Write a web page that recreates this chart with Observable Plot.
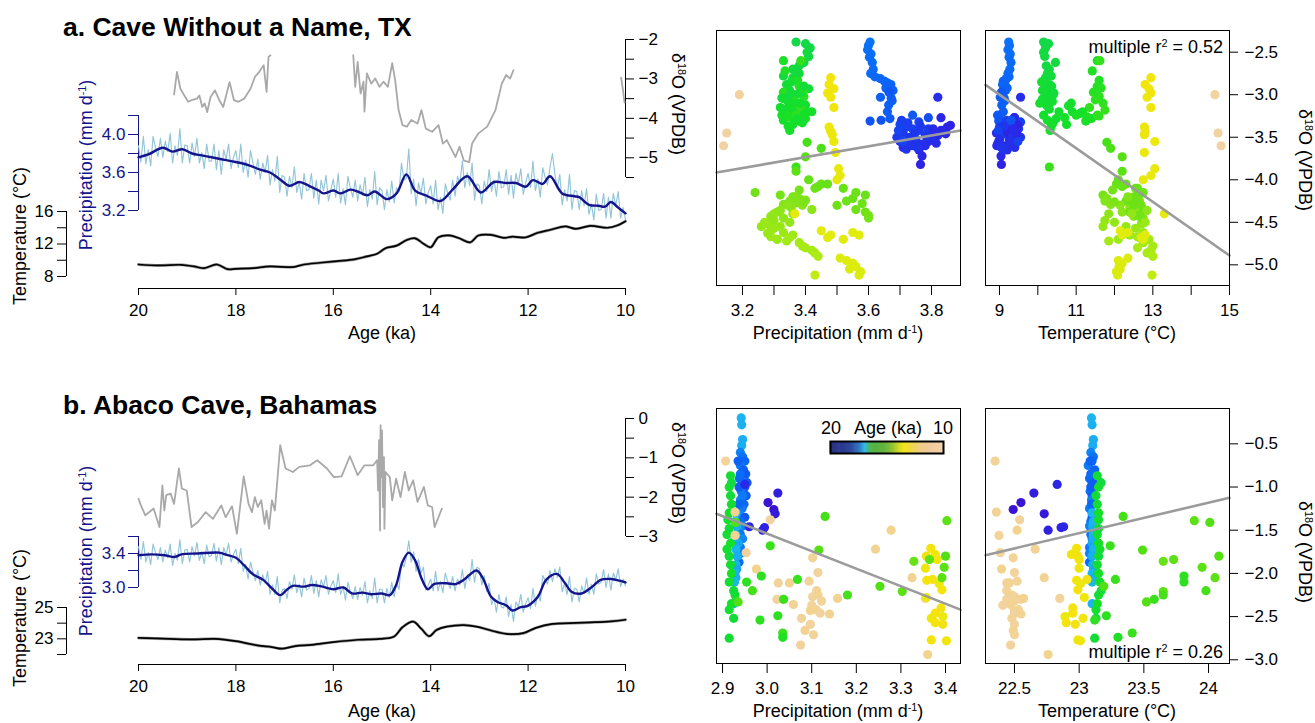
<!DOCTYPE html>
<html>
<head>
<meta charset="utf-8">
<script src="https://cdn.jsdelivr.net/npm/d3@7"></script>
<script src="https://cdn.jsdelivr.net/npm/@observablehq/plot@0.6"></script>
<style>
  body { margin: 0; background: #fff; }
  #fig { position: relative; width: 1315px; height: 723px; overflow: hidden; background: #fff;
         font-family: "Liberation Sans", Arial, Helvetica, sans-serif; color: #000; }
  #fig > svg { position: absolute; left: 0; top: 0; }
  .t { position: absolute; white-space: nowrap; line-height: 1; }
  .t sup { font-size: 0.6em; vertical-align: 0.6em; line-height: 0; }
</style>
</head>
<body>
<div id="fig"></div>
<script>
// ---------------------------------------------------------------------------
// Axis ticks
// ---------------------------------------------------------------------------
const ageTicks = [20, 18, 16, 14, 12, 10];

const cwnD18OTicks = [-5.5, -5, -4.5, -4, -3.5, -3, -2.5, -2];
const cwnD18OLabels = [-5, -4, -3, -2];
const cwnPrecipTicks = [3.2, 3.4, 3.6, 3.8, 4.0, 4.2];
const cwnPrecipLabels = [3.2, 3.6, 4.0];
const cwnTempTicks = [8, 10, 12, 14, 16];
const cwnTempLabels = [8, 12, 16];

const abacoD18OTicks = [-3, -2.5, -2, -1.5, -1, -0.5, 0];
const abacoD18OLabels = [-3, -2, -1, 0];
const abacoPrecipTicks = [3.0, 3.2, 3.4, 3.6];
const abacoPrecipLabels = [3.0, 3.4];
const abacoTempTicks = [22, 23, 24, 25];
const abacoTempLabels = [23, 25];

const cwnScatterPrecipTicks = [3.2, 3.3, 3.4, 3.5, 3.6, 3.7, 3.8];
const cwnScatterPrecipLabels = [3.2, 3.4, 3.6, 3.8];
const cwnScatterTempTicks = [9, 10, 11, 12, 13, 14, 15];
const cwnScatterTempLabels = [9, 11, 13, 15];
const cwnScatterD18OTicks = [-5, -4.5, -4, -3.5, -3, -2.5];
const abacoScatterPrecipTicks = [2.9, 3.0, 3.1, 3.2, 3.3, 3.4];
const abacoScatterTempTicks = [22.5, 23, 23.5, 24];
const abacoScatterD18OTicks = [-3, -2.5, -2, -1.5, -1, -0.5];

// Scatter axis extents
const cwnScatterPrecipDomain = [3.1175, 3.892];
const cwnScatterTempDomain = [8.635, 15];
const cwnScatterD18ODomain = [-5.243, -2.245];
const abacoScatterPrecipDomain = [2.8865, 3.4336];
const abacoScatterTempDomain = [22.276, 24.162];
const abacoScatterD18ODomain = [-3.043, -0.091];

// Multiple-regression partial fits: [intercept, slope]
const cwnFitPrecip = [-5.907, 0.639];
const cwnFitTemp = [-0.1623, -0.3152];
const abacoFitPrecip = [4.547, -2.029];
const abacoFitTemp = [-9.644, 0.3526];
const cwnR2 = "0.52";
const abacoR2 = "0.26";

// Age colour ramp for the scatter dots
const dotAgeStops = [10, 11, 12.3, 12.7, 13.4, 14.0, 14.5, 15.0, 15.6, 16.4, 17.4, 18.2, 19, 20];
const dotAgeColors = ["#f2d2a2", "#f2d670", "#f4e40c", "#e0ec0c", "#b4ec14", "#86e41a", "#52e014",
                      "#14e028", "#12d84a", "#1cb4f0", "#0a6cf6", "#1446f2", "#2a28e6", "#3c10d0"];
// Colour bar ramp (ages 10 -> 20 in 0.5 ka steps)
const legendAgeStops = [10, 10.5, 11, 11.5, 12, 12.5, 13, 13.5, 14, 14.5, 15, 15.5, 16, 16.5, 17, 17.5, 18, 18.5, 19, 19.5, 20];
const legendColors = ["#f3d2aa", "#f2cea4", "#f1cc9c", "#f0ca94", "#efcc84", "#efd268", "#f0dc40", "#f2e41a",
                      "#d0da24", "#9cc630", "#70b63a", "#5fb33e", "#56b243", "#4cb448", "#34bce6", "#2f78c4",
                      "#2d52a6", "#2c4398", "#2b3a8e", "#2a3688", "#283383"];

// ---------------------------------------------------------------------------
// a. Cave Without a Name, TX
// ---------------------------------------------------------------------------
// Precipitation raw series, 20 ka -> 10 ka every 0.05 ka
const cwnPrecipRaw = [
  3.88, 3.71, 3.98, 3.69, 3.84, 3.67, 3.98, 3.86, 3.77, 3.96,
  3.76, 3.93, 3.82, 4.01, 3.70, 3.88, 3.78, 4.06, 3.70, 3.89,
  3.88, 3.70, 3.91, 3.77, 3.96, 3.70, 3.81, 3.64, 3.90, 3.72,
  3.72, 3.90, 3.63, 3.83, 3.58, 3.84, 3.74, 3.90, 3.64, 3.76,
  3.83, 3.65, 3.90, 3.60, 3.73, 3.55, 3.83, 3.70, 3.58, 3.74,
  3.53, 3.70, 3.60, 3.78, 3.47, 3.63, 3.51, 3.77, 3.39, 3.57,
  3.55, 3.35, 3.56, 3.44, 3.66, 3.39, 3.50, 3.32, 3.59, 3.41,
  3.42, 3.59, 3.33, 3.52, 3.27, 3.52, 3.41, 3.57, 3.30, 3.42,
  3.53, 3.34, 3.59, 3.28, 3.43, 3.26, 3.56, 3.44, 3.34, 3.52,
  3.30, 3.47, 3.36, 3.55, 3.24, 3.42, 3.32, 3.61, 3.26, 3.44,
  3.41, 3.21, 3.42, 3.29, 3.51, 3.28, 3.44, 3.40, 3.70, 3.52,
  3.54, 3.85, 3.38, 3.53, 3.25, 3.49, 3.38, 3.54, 3.27, 3.39,
  3.46, 3.27, 3.52, 3.21, 3.34, 3.17, 3.48, 3.38, 3.31, 3.52,
  3.35, 3.56, 3.49, 3.72, 3.44, 3.60, 3.46, 3.70, 3.31, 3.48,
  3.46, 3.27, 3.51, 3.40, 3.63, 3.40, 3.52, 3.35, 3.61, 3.44,
  3.45, 3.63, 3.37, 3.57, 3.33, 3.59, 3.48, 3.64, 3.37, 3.49,
  3.59, 3.44, 3.72, 3.41, 3.53, 3.34, 3.65, 3.55, 3.47, 3.66,
  3.80, 3.58, 3.43, 3.58, 3.26, 3.42, 3.30, 3.58, 3.21, 3.41,
  3.40, 3.21, 3.41, 3.25, 3.43, 3.16, 3.27, 3.10, 3.37, 3.20,
  3.21, 3.38, 3.12, 3.34, 3.12, 3.38, 3.25, 3.40, 3.12, 3.23,
  3.10
];
const cwnPrecipSmooth = [
  [20.0, 3.76], [19.8, 3.79], [19.5, 3.86], [19.3, 3.82], [19.1, 3.845], [18.9, 3.80], [18.7, 3.78],
  [18.5, 3.76], [18.3, 3.74], [18.1, 3.72], [17.9, 3.70], [17.7, 3.67], [17.5, 3.63], [17.3, 3.60],
  [17.1, 3.53], [16.9, 3.46], [16.7, 3.50], [16.5, 3.46], [16.3, 3.41], [16.2, 3.38], [16.0, 3.41],
  [15.85, 3.38], [15.65, 3.42], [15.5, 3.40], [15.3, 3.36], [15.15, 3.40], [14.9, 3.32], [14.7, 3.38],
  [14.5, 3.58], [14.32, 3.41], [14.1, 3.36], [13.8, 3.30], [13.55, 3.42], [13.25, 3.56], [12.97, 3.39],
  [12.7, 3.50], [12.45, 3.49], [12.25, 3.49], [12.05, 3.45], [11.9, 3.52], [11.7, 3.48], [11.55, 3.56],
  [11.3, 3.38], [11.05, 3.35], [10.95, 3.34], [10.75, 3.26], [10.55, 3.25], [10.42, 3.24], [10.3, 3.29],
  [10.15, 3.23], [10.0, 3.17]
];
const cwnTemp = [
  [20.0, 9.48], [19.56, 9.36], [19.12, 9.44], [18.86, 9.24], [18.65, 9.03], [18.39, 9.48], [18.17, 8.90],
  [18.0, 8.95], [17.65, 9.03], [17.3, 9.24], [16.83, 9.16], [16.6, 9.48], [16.27, 9.69], [15.92, 9.89],
  [15.57, 10.10], [15.31, 10.47], [15.1, 10.80], [14.92, 11.50], [14.7, 11.80], [14.49, 12.50],
  [14.32, 12.70], [14.14, 12.00], [14.0, 11.60], [13.84, 12.84], [13.62, 13.05], [13.41, 12.70],
  [13.19, 12.20], [13.02, 13.05], [12.76, 13.13], [12.5, 12.76], [12.32, 12.90], [12.06, 12.80],
  [11.8, 13.38], [11.54, 13.75], [11.24, 14.16], [11.02, 13.87], [10.72, 14.24], [10.37, 14.00],
  [10.16, 14.30], [10.0, 14.80]
];
const cwnD18OSeg1 = [
  [19.27, -3.40], [19.21, -2.82], [19.14, -3.25], [19.04, -3.46], [18.98, -3.58], [18.91, -3.54],
  [18.80, -3.50], [18.75, -3.42], [18.69, -3.71], [18.64, -3.62], [18.59, -3.84], [18.52, -3.46],
  [18.43, -3.29], [18.34, -3.54], [18.26, -3.71], [18.13, -3.08], [18.04, -3.54], [17.95, -3.58],
  [17.83, -3.50], [17.70, -3.25], [17.61, -2.95], [17.52, -2.82], [17.43, -2.65], [17.37, -3.33],
  [17.33, -2.44], [17.29, -2.40]
];
const cwnD18OSeg2 = [
  [15.59, -2.40], [15.55, -3.20], [15.50, -2.57], [15.44, -3.37], [15.38, -3.07], [15.36, -3.83],
  [15.31, -2.86], [15.22, -3.12], [15.14, -2.99], [15.05, -3.20], [14.97, -3.07], [14.88, -3.20],
  [14.79, -2.60], [14.73, -3.03], [14.66, -3.79], [14.58, -4.17], [14.49, -4.21], [14.40, -4.04],
  [14.27, -4.13], [14.19, -3.79], [14.10, -4.26], [13.97, -4.34], [13.84, -4.17], [13.75, -4.64],
  [13.67, -4.55], [13.58, -4.77], [13.49, -4.98], [13.41, -4.72], [13.32, -5.07], [13.21, -5.11],
  [13.15, -4.64], [13.02, -4.38], [12.84, -4.21], [12.67, -3.79], [12.54, -3.12], [12.45, -2.90],
  [12.37, -2.99], [12.30, -2.78]
];
const cwnD18OSeg3 = [[10.09, -2.97], [10.05, -3.30], [10.02, -3.60]];

// Scatter samples: [age (ka), precipitation, temperature, d18O]
const cwnSamples = [
  [17.30, 3.605, 9.24, -2.38], [17.32, 3.600, 9.26, -2.42], [17.34, 3.597, 9.22, -2.47], [17.36, 3.608, 9.28, -2.52],
  [17.38, 3.603, 9.25, -2.56], [17.40, 3.612, 9.30, -2.62], [17.42, 3.615, 9.27, -2.70], [17.44, 3.607, 9.22, -2.75],
  [17.46, 3.620, 9.25, -2.79], [17.50, 3.637, 9.18, -2.81], [17.52, 3.650, 9.10, -2.84], [17.54, 3.660, 9.14, -2.86],
  [17.56, 3.671, 9.08, -2.88], [17.58, 3.655, 9.20, -2.92], [17.60, 3.678, 9.16, -2.95], [17.62, 3.638, 9.02, -3.03],
  [17.64, 3.675, 9.14, -3.07], [17.66, 3.664, 9.06, -3.12], [17.70, 3.660, 9.10, -3.20], [17.80, 3.740, 8.95, -3.24],
  [17.75, 3.668, 9.00, -3.28], [17.90, 3.605, 8.98, -3.31], [18.00, 3.790, 9.40, -3.27], [18.90, 3.820, 9.55, -3.03],
  [18.20, 3.700, 9.35, -3.35], [18.30, 3.720, 9.00, -3.38], [18.40, 3.740, 9.30, -3.40], [18.45, 3.760, 9.42, -3.42],
  [18.50, 3.710, 9.10, -3.45], [18.55, 3.780, 9.05, -3.47], [18.60, 3.730, 9.50, -3.50], [18.65, 3.750, 9.25, -3.52],
  [18.70, 3.700, 8.98, -3.55], [18.75, 3.770, 9.35, -3.58], [18.80, 3.740, 9.15, -3.60], [18.85, 3.710, 9.40, -3.62],
  [18.90, 3.800, 8.92, -3.45], [19.00, 3.830, 9.20, -3.42], [19.10, 3.850, 9.08, -3.38], [19.05, 3.820, 9.30, -3.48],
  [18.95, 3.790, 9.45, -3.55], [18.50, 3.790, 9.50, -3.40], [18.35, 3.760, 9.55, -3.32], [18.70, 3.730, 8.95, -3.58],
  [18.90, 3.760, 9.20, -3.65], [19.00, 3.770, 9.04, -3.72], [19.20, 3.765, 9.05, -3.82], [19.10, 3.830, 9.38, -3.27],
  [19.20, 3.860, 9.48, -3.36], [19.15, 3.840, 9.22, -3.44], [18.55, 3.690, 9.55, -3.50], [18.80, 3.800, 9.00, -3.53],
  [18.60, 3.745, 9.40, -3.46], [18.90, 3.780, 8.93, -3.60], [18.70, 3.720, 9.10, -3.64], [18.40, 3.705, 9.18, -3.30],
  [18.45, 3.725, 9.28, -3.33], [18.60, 3.765, 9.12, -3.37], [18.75, 3.785, 9.33, -3.50], [18.85, 3.815, 9.27, -3.57],
  [19.05, 3.845, 9.45, -3.46], [18.25, 3.695, 8.97, -3.42], [18.65, 3.755, 9.05, -3.62], [18.95, 3.805, 9.36, -3.40],
  [18.30, 3.710, 9.48, -3.55], [17.85, 3.665, 9.05, -2.97], [17.72, 3.672, 9.12, -3.04], [17.95, 3.640, 9.30, -3.30],

  [15.60, 3.370, 10.15, -2.38], [15.55, 3.400, 10.28, -2.40], [15.50, 3.415, 10.20, -2.45], [15.45, 3.405, 10.15, -2.50],
  [15.43, 3.410, 10.18, -2.55], [14.95, 3.330, 11.55, -2.60], [15.40, 3.395, 10.46, -2.62], [15.38, 3.330, 10.35, -2.78],
  [15.35, 3.360, 10.20, -2.80], [14.90, 3.375, 11.60, -2.83], [15.30, 3.340, 10.30, -2.88], [14.88, 3.380, 11.55, -2.90],
  [15.28, 3.410, 10.25, -2.93], [15.25, 3.350, 10.12, -2.95], [14.85, 3.330, 11.45, -2.97], [15.22, 3.370, 10.32, -3.00],
  [14.82, 3.395, 11.60, -3.02], [15.20, 3.325, 10.18, -3.04], [14.80, 3.360, 11.50, -3.06], [15.18, 3.345, 10.38, -3.08],
  [14.78, 3.380, 11.70, -3.10], [15.15, 3.400, 10.22, -3.12], [15.00, 3.350, 10.80, -3.13], [14.75, 3.370, 11.35, -3.15],
  [15.12, 3.330, 10.30, -3.17], [14.72, 3.390, 11.75, -3.18], [15.10, 3.360, 10.55, -3.20], [15.05, 3.350, 11.10, -3.22],
  [15.08, 3.390, 10.15, -3.24], [14.70, 3.340, 11.60, -3.25], [15.02, 3.360, 10.70, -3.27], [14.98, 3.400, 11.40, -3.28],
  [15.06, 3.330, 10.25, -3.30], [14.96, 3.380, 11.25, -3.31], [15.04, 3.390, 10.40, -3.33], [15.00, 3.360, 10.75, -3.35],
  [15.02, 3.345, 10.35, -3.37], [15.00, 3.350, 10.32, -3.42], [15.10, 3.420, 10.90, -3.20], [14.60, 3.405, 11.80, -3.56],
  [14.55, 3.450, 11.90, -3.63], [14.70, 3.370, 10.30, -3.85], [15.35, 3.380, 10.25, -2.75], [15.37, 3.360, 10.30, -2.70],
  [15.20, 3.340, 10.22, -3.06], [15.16, 3.320, 10.28, -3.15], [14.80, 3.370, 11.55, -3.24], [15.15, 3.355, 10.10, -2.85],
  [15.25, 3.385, 10.42, -2.98], [15.05, 3.365, 10.05, -3.10], [14.90, 3.335, 11.42, -2.72], [14.85, 3.395, 11.65, -2.92],
  [15.12, 3.375, 10.48, -3.28], [14.98, 3.325, 11.00, -3.24], [15.00, 3.405, 11.17, -3.20], [14.95, 3.345, 11.28, -3.26],
  [15.08, 3.385, 10.87, -3.10], [15.18, 3.335, 10.12, -3.05], [15.28, 3.395, 10.36, -2.90], [15.42, 3.380, 10.22, -2.66],
  [14.75, 3.385, 11.62, -2.60], [15.33, 3.350, 10.40, -3.00],

  [14.45, 3.400, 12.20, -3.73], [14.40, 3.370, 12.20, -3.90], [14.35, 3.410, 12.10, -4.00], [14.30, 3.450, 12.30, -4.05],
  [14.25, 3.430, 12.60, -4.10], [14.20, 3.240, 12.75, -4.15], [14.15, 3.320, 11.70, -4.18], [14.10, 3.360, 12.50, -4.20],
  [14.08, 3.380, 11.80, -4.22], [14.06, 3.400, 12.65, -4.24], [14.04, 3.350, 11.75, -4.25], [14.02, 3.370, 12.55, -4.27],
  [14.00, 3.330, 11.90, -4.29], [13.98, 3.390, 12.70, -4.30], [13.96, 3.355, 12.40, -4.33], [13.94, 3.420, 12.60, -4.35],
  [13.92, 3.310, 12.20, -4.38], [13.90, 3.360, 11.85, -4.40], [13.88, 3.290, 12.50, -4.43], [13.86, 3.330, 12.75, -4.45],
  [13.84, 3.300, 11.75, -4.48], [13.82, 3.350, 12.00, -4.50], [13.80, 3.280, 12.70, -4.52], [13.78, 3.320, 11.70, -4.55],
  [13.76, 3.300, 12.55, -4.57], [13.74, 3.290, 12.25, -4.60], [13.72, 3.330, 12.75, -4.62], [13.70, 3.360, 12.40, -4.65],
  [13.68, 3.290, 12.60, -4.67], [13.66, 3.310, 12.90, -4.70], [13.64, 3.340, 11.85, -4.72], [13.62, 3.380, 12.75, -4.74],
  [13.60, 3.390, 13.00, -4.78], [13.58, 3.400, 12.60, -4.80], [13.56, 3.420, 12.95, -4.83], [13.54, 3.430, 12.85, -4.86],
  [13.50, 3.440, 13.00, -4.90], [13.20, 3.430, 12.98, -5.12], [14.30, 3.520, 12.55, -4.10], [14.28, 3.560, 12.70, -4.15],
  [14.27, 3.590, 12.60, -4.18], [14.26, 3.550, 12.45, -4.22], [14.25, 3.530, 12.30, -4.25], [14.24, 3.580, 12.65, -4.28],
  [14.23, 3.500, 12.50, -4.30], [14.22, 3.560, 12.75, -4.35], [14.20, 3.590, 12.40, -4.38], [14.18, 3.600, 12.60, -4.42],
  [14.17, 3.600, 12.70, -4.45], [14.30, 3.470, 12.05, -4.05], [14.15, 3.380, 11.95, -4.12], [14.28, 3.440, 12.20, -4.08],
  [13.70, 3.310, 12.10, -4.70], [13.80, 3.260, 12.30, -4.55], [13.85, 3.300, 12.45, -4.40], [13.75, 3.280, 12.35, -4.63],
  [13.90, 3.320, 12.85, -4.36], [13.65, 3.350, 12.65, -4.68], [13.95, 3.345, 12.15, -4.30], [14.05, 3.365, 12.35, -4.20],
  [14.10, 3.395, 12.00, -4.26], [13.72, 3.270, 12.80, -4.50],

  [12.35, 3.480, 12.95, -2.80], [12.37, 3.475, 12.80, -2.88], [12.38, 3.490, 12.90, -2.93], [12.39, 3.470, 12.95, -2.98],
  [12.40, 3.480, 12.85, -3.03], [12.42, 3.490, 12.95, -3.15], [12.45, 3.475, 12.78, -3.38], [12.46, 3.480, 12.80, -3.43],
  [12.47, 3.485, 12.78, -3.47], [12.50, 3.495, 12.78, -3.68], [12.52, 3.505, 13.05, -3.87], [12.54, 3.510, 12.95, -3.95],
  [12.56, 3.500, 12.75, -4.00], [12.60, 3.366, 13.30, -4.40], [12.65, 3.450, 12.15, -4.60], [12.66, 3.480, 12.80, -4.65],
  [12.67, 3.470, 12.70, -4.68], [12.68, 3.550, 12.35, -4.62], [12.69, 3.570, 12.20, -4.65], [12.70, 3.520, 12.75, -4.70],
  [12.75, 3.530, 12.10, -4.95], [12.76, 3.550, 12.20, -4.98], [12.77, 3.560, 12.12, -5.02], [12.78, 3.540, 12.15, -5.05],
  [12.79, 3.575, 12.05, -5.08], [12.80, 3.570, 12.08, -5.12], [12.74, 3.510, 12.35, -4.92], [12.48, 3.490, 13.05, -3.55],

  [10.05, 3.190, 14.62, -3.00], [10.03, 3.150, 14.70, -3.45], [10.01, 3.140, 14.78, -3.60]
];

// ---------------------------------------------------------------------------
// b. Abaco Cave, Bahamas
// ---------------------------------------------------------------------------
const abacoPrecipRaw = [
  3.48, 3.33, 3.54, 3.30, 3.41, 3.27, 3.51, 3.41, 3.33, 3.47,
  3.30, 3.44, 3.35, 3.51, 3.26, 3.40, 3.32, 3.56, 3.28, 3.44,
  3.45, 3.30, 3.48, 3.37, 3.53, 3.32, 3.42, 3.28, 3.50, 3.36,
  3.38, 3.52, 3.31, 3.47, 3.27, 3.47, 3.38, 3.52, 3.30, 3.39,
  3.45, 3.28, 3.46, 3.19, 3.27, 3.10, 3.30, 3.18, 3.08, 3.20,
  3.03, 3.15, 3.05, 3.19, 2.92, 3.03, 2.92, 3.13, 2.82, 2.97,
  2.99, 2.87, 3.07, 2.98, 3.15, 2.94, 3.04, 2.89, 3.11, 2.97,
  2.99, 3.14, 2.93, 3.08, 2.89, 3.09, 3.01, 3.14, 2.92, 3.02,
  3.08, 2.94, 3.16, 2.92, 3.01, 2.85, 3.06, 2.95, 2.87, 3.01,
  2.86, 3.00, 2.91, 3.07, 2.82, 2.96, 2.87, 3.11, 2.82, 2.98,
  2.98, 2.82, 2.99, 2.88, 3.06, 2.89, 3.05, 2.98, 3.30, 3.24,
  3.35, 3.55, 3.30, 3.42, 3.19, 3.33, 3.17, 3.24, 2.97, 3.03,
  3.10, 2.96, 3.19, 2.96, 3.07, 2.94, 3.17, 3.07, 2.99, 3.13,
  2.96, 3.10, 3.03, 3.21, 2.99, 3.15, 3.08, 3.33, 3.06, 3.24,
  3.22, 3.03, 3.14, 2.95, 3.05, 2.80, 2.87, 2.71, 2.92, 2.77,
  2.76, 2.89, 2.66, 2.80, 2.60, 2.83, 2.77, 2.92, 2.71, 2.81,
  2.88, 2.75, 2.99, 2.78, 2.92, 2.84, 3.14, 3.09, 3.04, 3.20,
  3.07, 3.22, 3.12, 3.24, 2.95, 3.05, 2.92, 3.13, 2.83, 2.99,
  2.98, 2.83, 3.02, 2.93, 3.11, 2.92, 3.04, 2.92, 3.16, 3.04,
  3.06, 3.21, 3.00, 3.16, 2.97, 3.17, 3.09, 3.22, 3.01, 3.10,
  3.02
];
const abacoPrecipSmooth = [
  [20.0, 3.38], [19.73, 3.39], [19.47, 3.38], [19.25, 3.36], [19.12, 3.39], [18.78, 3.40], [18.35, 3.41],
  [18.17, 3.38], [18.0, 3.35], [17.83, 3.26], [17.65, 3.155], [17.44, 3.09], [17.26, 2.99], [17.09, 2.91],
  [16.96, 2.97], [16.83, 3.02], [16.61, 3.01], [16.44, 3.03], [16.22, 3.01], [16.0, 2.98], [15.79, 3.00],
  [15.62, 2.93], [15.4, 2.94], [15.23, 2.92], [15.01, 2.93], [14.84, 2.91], [14.71, 3.03], [14.58, 3.30],
  [14.45, 3.41], [14.32, 3.32], [14.19, 3.11], [14.06, 2.98], [13.93, 3.04], [13.67, 3.05], [13.49, 3.04],
  [13.32, 3.09], [13.06, 3.20], [12.93, 3.11], [12.76, 2.89], [12.63, 2.83], [12.45, 2.79], [12.32, 2.73],
  [12.15, 2.77], [12.02, 2.78], [11.8, 2.89], [11.63, 3.09], [11.41, 3.16], [11.24, 3.05], [11.11, 2.95],
  [10.9, 2.93], [10.68, 3.01], [10.51, 3.09], [10.29, 3.10], [10.12, 3.08], [10.0, 3.06]
];
const abacoTemp = [
  [20.0, 23.06], [19.38, 23.00], [18.86, 22.96], [18.43, 23.00], [18.0, 22.85], [17.56, 22.58], [17.26, 22.47],
  [17.06, 22.37], [16.78, 22.54], [16.44, 22.62], [16.0, 22.79], [15.49, 22.94], [15.05, 23.00], [14.75, 23.15],
  [14.58, 23.74], [14.36, 24.10], [14.19, 23.63], [14.03, 23.17], [13.88, 23.57], [13.67, 23.78], [13.32, 23.88],
  [13.06, 23.78], [12.76, 23.53], [12.45, 23.32], [12.1, 23.36], [11.84, 23.70], [11.5, 23.95], [11.15, 24.00],
  [10.72, 24.05], [10.29, 24.12], [10.0, 24.22]
];
const abacoD18O = [
  [20.00, -2.04], [19.95, -2.21], [19.86, -2.46], [19.69, -2.29], [19.57, -2.76], [19.51, -1.70], [19.47, -2.34],
  [19.43, -1.95], [19.34, -1.91], [19.27, -2.17], [19.17, -1.27], [19.11, -1.78], [19.01, -1.83], [18.91, -2.76],
  [18.78, -2.63], [18.62, -2.38], [18.47, -2.55], [18.30, -2.21], [18.21, -2.51], [18.08, -2.23], [17.98, -2.93],
  [17.84, -1.47], [17.74, -2.17], [17.67, -2.38], [17.61, -2.00], [17.55, -2.25], [17.48, -2.08], [17.41, -2.68],
  [17.37, -2.34], [17.32, -2.80], [17.26, -2.08], [17.20, -2.34], [17.09, -0.68], [16.98, -1.27], [16.83, -1.36],
  [16.70, -1.23], [16.48, -1.19], [16.33, -1.06], [16.13, -1.27], [15.99, -1.49], [15.83, -1.47], [15.66, -0.96],
  [15.50, -1.44], [15.36, -1.19], [15.18, -1.19], [15.10, -1.06], [15.08, -1.83], [15.06, -0.55], [15.04, -2.85],
  [15.03, -0.17], [15.01, -1.49], [15.00, -0.30], [14.98, -2.25], [14.96, -0.98], [14.95, -2.80], [14.93, -1.36],
  [14.84, -1.49], [14.79, -2.08], [14.71, -1.53], [14.62, -2.00], [14.53, -1.36], [14.45, -1.83], [14.36, -1.57],
  [14.27, -2.12], [14.14, -1.74], [14.06, -2.21], [13.97, -2.25], [13.92, -2.76], [13.84, -2.51], [13.77, -2.29]
];
const abacoSamples = [
  [16.40, 2.942, 23.095, -0.20], [16.45, 2.943, 23.100, -0.28], [16.50, 2.945, 23.110, -0.45], [16.50, 2.943, 23.105, -0.52],
  [17.1, 2.940, 23.090, -0.60], [17.3, 2.945, 23.110, -0.65], [17.5, 2.950, 23.100, -0.70], [17.2, 2.940, 23.070, -0.75],
  [17.6, 2.947, 23.120, -0.80], [17.8, 2.952, 23.090, -0.85], [17.4, 2.938, 23.080, -0.90], [17.5, 2.945, 23.100, -0.95],
  [17.9, 2.950, 23.110, -1.00], [17.3, 2.942, 23.085, -1.05], [17.7, 2.953, 23.100, -1.10], [17.1, 2.940, 23.095, -1.15],
  [17.5, 2.948, 23.110, -1.20], [17.2, 2.944, 23.080, -1.25], [17.0, 2.935, 23.100, -1.30], [17.8, 2.950, 23.100, -1.35],
  [17.4, 2.940, 23.090, -1.40], [17.1, 2.945, 23.080, -1.45], [16.9, 2.937, 23.100, -1.50], [17.3, 2.940, 23.090, -1.55],
  [17.0, 2.945, 23.100, -1.60], [17.2, 2.940, 23.080, -1.70], [17.1, 2.940, 23.080, -1.77], [17.4, 2.937, 23.080, -1.87],
  [17.6, 2.935, 23.085, -0.70], [17.4, 2.940, 23.100, -0.85], [17.7, 2.937, 23.090, -1.00], [17.2, 2.945, 23.120, -1.10],
  [17.5, 2.937, 23.095, -1.20], [17.8, 2.955, 23.115, -0.95],
  [16.4, 2.930, 23.100, -1.30], [16.5, 2.932, 23.105, -1.45], [16.3, 2.930, 23.110, -1.55], [16.6, 2.935, 23.100, -1.65],
  [16.4, 2.930, 23.110, -1.72], [16.5, 2.933, 23.100, -1.80], [16.3, 2.930, 23.105, -1.90], [16.6, 2.932, 23.110, -1.95],
  [16.4, 2.928, 23.100, -2.00], [16.5, 2.930, 23.110, -2.05], [16.3, 2.927, 23.100, -2.10], [16.4, 2.925, 23.100, -2.35],
  [16.5, 2.928, 23.110, -1.60], [16.4, 2.928, 23.110, -1.40],
  [15.2, 2.918, 23.140, -0.87], [15.1, 2.915, 23.150, -1.00], [15.3, 2.918, 23.130, -1.10], [15.2, 2.920, 23.140, -1.20],
  [15.0, 2.915, 23.150, -1.30], [15.1, 2.912, 23.150, -1.38], [15.3, 2.915, 23.150, -1.48], [15.2, 2.910, 23.140, -1.55],
  [15.0, 2.918, 23.150, -1.65], [15.1, 2.910, 23.160, -1.72], [15.3, 2.915, 23.150, -1.80], [15.2, 2.918, 23.140, -1.90],
  [15.0, 2.920, 23.150, -2.00], [15.1, 2.915, 23.160, -2.10], [15.3, 2.925, 23.170, -2.20], [15.2, 2.928, 23.150, -2.25],
  [15.0, 2.920, 23.140, -2.35], [15.1, 2.915, 23.130, -2.42], [15.3, 2.925, 23.130, -2.52], [15.2, 2.915, 23.120, -2.75],
  [15.4, 2.920, 23.170, -0.95],
  [19.0, 2.950, 22.830, -0.97], [19.4, 3.024, 22.650, -1.07], [19.8, 3.002, 22.550, -1.18], [19.9, 3.015, 22.490, -1.26],
  [19.6, 3.018, 22.730, -1.31], [19.3, 2.990, 22.760, -1.50], [19.2, 2.994, 22.860, -1.47], [19.1, 2.960, 22.880, -1.46],
  [10.2, 2.907, 22.35, -0.70], [10.3, 2.928, 22.36, -1.29], [10.1, 3.007, 22.54, -1.38], [10.4, 3.278, 22.52, -1.50],
  [10.2, 2.928, 22.38, -1.56], [10.3, 3.243, 22.66, -1.72], [10.1, 2.953, 22.39, -1.76], [10.2, 3.102, 22.49, -1.82],
  [10.4, 2.976, 22.40, -1.95], [10.1, 3.114, 22.50, -1.99], [10.3, 3.325, 22.73, -2.05], [10.2, 3.094, 22.52, -2.09],
  [10.1, 3.025, 22.44, -2.11], [10.3, 3.050, 22.46, -2.11], [10.2, 3.111, 22.44, -2.20], [10.4, 3.114, 22.48, -2.25],
  [10.1, 3.102, 22.50, -2.27], [10.3, 3.158, 22.57, -2.29], [10.2, 3.355, 22.85, -2.29], [10.1, 3.022, 22.44, -2.30],
  [10.4, 3.035, 22.55, -2.30], [10.2, 3.122, 22.50, -2.32], [10.3, 3.059, 22.47, -2.36], [10.1, 3.100, 22.41, -2.37],
  [10.2, 3.110, 22.53, -2.42], [10.4, 3.097, 22.50, -2.43], [10.1, 3.119, 22.50, -2.46], [10.3, 3.140, 22.55, -2.47],
  [10.2, 3.077, 22.48, -2.52], [10.1, 3.097, 22.50, -2.59], [10.3, 3.085, 22.49, -2.66], [10.2, 3.104, 22.50, -2.71],
  [10.1, 3.075, 22.47, -2.83], [10.4, 3.360, 22.76, -2.94],
  [12.3, 3.367, 22.98, -1.71], [12.4, 3.377, 22.94, -1.78], [12.2, 3.357, 22.99, -1.80], [12.3, 3.381, 23.00, -1.84],
  [12.4, 3.355, 23.00, -1.94], [12.2, 3.371, 23.06, -2.07], [12.3, 3.358, 22.98, -2.08], [12.5, 3.386, 23.01, -2.12],
  [12.3, 3.392, 22.99, -2.19], [12.4, 3.357, 23.04, -2.28], [12.2, 3.390, 22.95, -2.40], [12.3, 3.377, 22.95, -2.46],
  [12.5, 3.394, 22.89, -2.50], [12.4, 3.368, 23.03, -2.52], [12.3, 3.377, 22.90, -2.57], [12.2, 3.394, 22.97, -2.59],
  [12.3, 3.368, 22.99, -2.77], [12.4, 3.402, 23.01, -2.78],
  [14.6, 3.130, 23.34, -1.34], [14.4, 3.403, 23.89, -1.39], [14.5, 2.930, 24.01, -1.41], [14.7, 3.007, 23.24, -1.68],
  [14.5, 3.116, 23.49, -1.73], [14.4, 3.364, 23.73, -1.84], [14.3, 3.329, 23.65, -1.86], [14.5, 3.400, 24.08, -1.80],
  [14.4, 3.397, 23.95, -1.93], [14.8, 2.987, 23.81, -2.03], [14.4, 3.392, 24.05, -2.05], [14.7, 3.068, 23.28, -2.07],
  [14.8, 2.954, 23.81, -2.10], [14.5, 3.253, 23.19, -2.15], [14.6, 2.967, 23.98, -2.20], [14.4, 3.303, 23.65, -2.21],
  [14.6, 3.180, 23.65, -2.25], [14.7, 3.037, 23.58, -2.30], [14.5, 2.935, 23.52, -2.33], [14.8, 3.024, 23.21, -2.49],
  [14.7, 3.035, 23.41, -2.69], [14.9, 3.035, 23.30, -2.74], [14.8, 2.984, 23.12, -2.54]
];

// ---------------------------------------------------------------------------
// Drawing
// ---------------------------------------------------------------------------
const W = 1315, H = 723;
const FONT = '"Liberation Sans", Arial, Helvetica, sans-serif';
const NAVY = "#14148c";
const RAWBLUE = "#92c5d8";
const D18O_GREY = "#a9a9a9";
const FIT_GREY = "#9b9b9b";
const TICK_FS = 17;
const fig = document.getElementById("fig");
const STYLE = {background: "transparent", fontFamily: FONT, fontSize: TICK_FS + "px", overflow: "visible"};

const minus = (d, digits) => {
  const s = Math.abs(d).toFixed(digits);
  return d < 0 ? "\u2212" + s : s;
};
const labelled = (labels, digits) => d => labels.includes(d) ? minus(d, digits) : "";
const dotColor = {type: "linear", domain: dotAgeStops, range: dotAgeColors, interpolate: "rgb"};

function add(svg) { fig.appendChild(svg); }

function tsPlot(y, marks) {
  return Plot.plot({
    width: W, height: H, marginLeft: 138, marginRight: W - 625, marginTop: 0, marginBottom: 0,
    style: STYLE, x: {domain: [20, 10], axis: null}, y, marks
  });
}
const rawSeries = values => values.map((v, i) => [20 - i * 0.05, v]);

function timePanel(p) {
  // d18O (grey, right axis)
  add(tsPlot({domain: p.d18Domain, range: p.d18Range}, [
    Plot.ruleX([10], {y1: p.d18Domain[0], y2: p.d18Domain[1], stroke: "#000"}),
    Plot.axisY({anchor: "right", ticks: p.d18Ticks, tickFormat: labelled(p.d18Labels, 0), tickSize: 8,
                tickPadding: 5, label: null, fontSize: TICK_FS}),
    ...p.d18Segments.map(seg => Plot.line(seg, {x: d => d[0], y: d => d[1], stroke: D18O_GREY, strokeWidth: 1.8}))
  ]));
  // precipitation (blue, left axis on the frame edge)
  add(tsPlot({domain: p.precipDomain, range: p.precipRange}, [
    Plot.ruleX([20], {y1: p.precipDomain[0], y2: p.precipDomain[1], stroke: NAVY}),
    Plot.axisY({anchor: "left", ticks: p.precipTicks, tickFormat: labelled(p.precipLabels, 1), tickSize: 10,
                tickPadding: 3, label: null, color: NAVY, stroke: NAVY, fill: NAVY, fontSize: TICK_FS}),
    Plot.line(rawSeries(p.precipRaw), {x: d => d[0], y: d => d[1], stroke: RAWBLUE, strokeWidth: 1.15}),
    Plot.line(p.precipSmooth, {x: d => d[0], y: d => d[1], stroke: NAVY, strokeWidth: 2.4, curve: "catmull-rom"})
  ]));
  // temperature (black, offset left axis)
  add(tsPlot({domain: p.tempDomain, range: p.tempRange}, [
    Plot.ruleX([20], {y1: p.tempDomain[0], y2: p.tempDomain[1], dx: -72, stroke: "#000"}),
    Plot.axisY({anchor: "left", ticks: p.tempTicks, tickFormat: labelled(p.tempLabels, 0), tickSize: 9,
                tickPadding: 4, dx: -72, label: null, fontSize: TICK_FS}),
    Plot.line(p.temp, {x: d => d[0], y: d => d[1], stroke: "#a0a0a0", strokeWidth: 3.0, curve: "catmull-rom"}),
    Plot.line(p.temp, {x: d => d[0], y: d => d[1], stroke: "#000", strokeWidth: 1.7, curve: "catmull-rom"})
  ]));
  // age axis
  add(Plot.plot({
    width: W, height: H, marginLeft: 138, marginRight: W - 625, marginTop: 0, marginBottom: H - p.axisY,
    style: STYLE, x: {domain: [20, 10]}, y: {domain: [0, 1], range: [p.axisY, p.axisY - 50], axis: null},
    marks: [
      Plot.ruleY([0], {x1: 20, x2: 10, stroke: "#000"}),
      Plot.axisX({anchor: "bottom", ticks: ageTicks, tickSize: 7, tickPadding: 8, label: null, fontSize: TICK_FS})
    ]
  }));
}

function scatter(s) {
  const marks = [
    Plot.dot(s.rows, {x: d => d[s.xi], y: d => d[3], fill: d => d[0], r: 4.6}),
    Plot.line(s.xDomain, {x: d => d, y: d => s.fit[0] + s.fit[1] * d, stroke: FIT_GREY, strokeWidth: 2.6}),
    Plot.frame({stroke: "#000", strokeWidth: 1}),
    Plot.axisX({anchor: "bottom", ticks: s.xTicks, tickFormat: s.xFormat, tickSize: 10, tickPadding: 8,
                label: null, fontSize: TICK_FS})
  ];
  if (s.yTicks) marks.push(Plot.axisY({anchor: "right", ticks: s.yTicks, tickFormat: d => minus(d, 1),
                                       tickSize: 8, tickPadding: 7, label: null, fontSize: TICK_FS}));
  add(Plot.plot({
    width: W, height: H, marginLeft: s.left, marginRight: W - s.right, marginTop: s.top, marginBottom: H - s.bottom,
    style: STYLE, x: {domain: s.xDomain},
    y: s.yTicks ? {domain: s.yDomain} : {domain: s.yDomain, axis: null},
    color: dotColor, marks
  }));
}

function text(html, x, y, o = {}) {
  const el = document.createElement("div");
  el.className = "t";
  el.innerHTML = html;
  el.style.left = x + "px";
  el.style.top = y + "px";
  el.style.fontSize = (o.size || 18) + "px";
  el.style.color = o.color || "#000";
  if (o.bold) el.style.fontWeight = "bold";
  const tx = o.align === "left" ? 0 : o.align === "right" ? -100 : -50;
  el.style.transform = `translate(${tx}%, -50%) rotate(${o.rotate || 0}deg)`;
  fig.appendChild(el);
}

// Panel a time series
timePanel({
  axisY: 288,
  d18Domain: [-5.5, -2], d18Range: [177, 39], d18Ticks: cwnD18OTicks, d18Labels: cwnD18OLabels,
  d18Segments: [cwnD18OSeg1, cwnD18OSeg2, cwnD18OSeg3],
  precipDomain: [3.2, 4.2], precipRange: [210, 115], precipTicks: cwnPrecipTicks, precipLabels: cwnPrecipLabels,
  precipRaw: cwnPrecipRaw, precipSmooth: cwnPrecipSmooth,
  tempDomain: [8, 16], tempRange: [276, 211], tempTicks: cwnTempTicks, tempLabels: cwnTempLabels, temp: cwnTemp
});
// Panel b time series
timePanel({
  axisY: 664,
  d18Domain: [-3, 0], d18Range: [536, 418], d18Ticks: abacoD18OTicks, d18Labels: abacoD18OLabels,
  d18Segments: [abacoD18O],
  precipDomain: [3.0, 3.6], precipRange: [587, 536], precipTicks: abacoPrecipTicks, precipLabels: abacoPrecipLabels,
  precipRaw: abacoPrecipRaw, precipSmooth: abacoPrecipSmooth,
  tempDomain: [22, 25], tempRange: [654, 607], tempTicks: abacoTempTicks, tempLabels: abacoTempLabels, temp: abacoTemp
});

// Scatter panels
scatter({rows: cwnSamples, xi: 1, xDomain: cwnScatterPrecipDomain, yDomain: cwnScatterD18ODomain, fit: cwnFitPrecip,
         left: 716, right: 960, top: 30, bottom: 285, xTicks: cwnScatterPrecipTicks,
         xFormat: labelled(cwnScatterPrecipLabels, 1)});
scatter({rows: cwnSamples, xi: 2, xDomain: cwnScatterTempDomain, yDomain: cwnScatterD18ODomain, fit: cwnFitTemp,
         left: 985, right: 1229, top: 30, bottom: 285, xTicks: cwnScatterTempTicks,
         xFormat: labelled(cwnScatterTempLabels, 0), yTicks: cwnScatterD18OTicks});
scatter({rows: abacoSamples, xi: 1, xDomain: abacoScatterPrecipDomain, yDomain: abacoScatterD18ODomain, fit: abacoFitPrecip,
         left: 716, right: 960, top: 408, bottom: 663, xTicks: abacoScatterPrecipTicks,
         xFormat: d => d.toFixed(1)});
scatter({rows: abacoSamples, xi: 2, xDomain: abacoScatterTempDomain, yDomain: abacoScatterD18ODomain, fit: abacoFitTemp,
         left: 985, right: 1229, top: 408, bottom: 663, xTicks: abacoScatterTempTicks,
         xFormat: d => String(d), yTicks: abacoScatterD18OTicks});

// Age colour bar
add(Plot.plot({
  width: W, height: H, marginLeft: 830, marginRight: W - 943, marginTop: 441, marginBottom: H - 453,
  style: STYLE, x: {domain: [20, 10], axis: null},
  color: {type: "linear", domain: legendAgeStops, range: legendColors, interpolate: "rgb"},
  marks: [
    Plot.ruleX(d3.range(10, 20.0001, 10 / 120), {x: d => d, stroke: d => d, strokeWidth: 1.6}),
    Plot.frame({stroke: "#000", strokeWidth: 2})
  ]
}));

// Titles and axis labels
const D18O_LABEL = "δ<sup>18</sup>O (VPDB)";
const PRECIP_LABEL = "Precipitation (mm d<sup>-1</sup>)";
const TEMP_LABEL = "Temperature (°C)";

text("a. Cave Without a Name, TX", 63, 27, {size: 26.5, bold: true, align: "left"});
text("b. Abaco Cave, Bahamas", 63, 405, {size: 26.5, bold: true, align: "left"});

for (const [precipY, tempY, d18Y, ageY] of [[165, 236, 104, 333], [551, 618, 473, 711]]) {
  text(TEMP_LABEL, 20, tempY, {rotate: -90});
  text(PRECIP_LABEL, 86, precipY, {rotate: -90, color: NAVY});
  text(D18O_LABEL, 678, d18Y, {rotate: 90});
  text("Age (ka)", 382, ageY);
  text(PRECIP_LABEL, 838, ageY);
  text(TEMP_LABEL, 1107, ageY);
}
text(D18O_LABEL, 1305, 160, {rotate: 90});
text(D18O_LABEL, 1305, 552, {rotate: 90});
text(`multiple r<sup>2</sup> = ${cwnR2}`, 1223, 47, {align: "right"});
text(`multiple r<sup>2</sup> = ${abacoR2}`, 1223, 652, {align: "right"});
text("20", 831, 428);
text("Age (ka)", 888, 428);
text("10", 943, 428);
</script>
</body>
</html>
